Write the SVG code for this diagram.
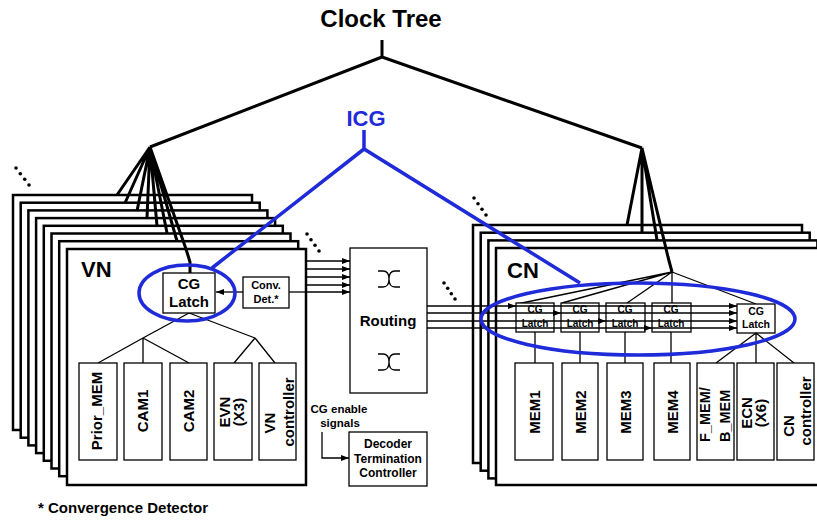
<svg xmlns="http://www.w3.org/2000/svg" width="817" height="520" viewBox="0 0 817 520">
<defs>
<style>
text{font-family:"Liberation Sans",Arial,Helvetica,sans-serif;font-weight:bold;fill:#000}
.box{fill:#fff;stroke:#000;stroke-width:2.5}
.sub{fill:#fff;stroke:#000;stroke-width:1.3}
.thick{fill:none;stroke:#000;stroke-width:3;stroke-linejoin:round}
.thin{fill:none;stroke:#000;stroke-width:1.3}
.bus{fill:none;stroke:#000;stroke-width:1.3;marker-end:url(#ah)}
.blue{fill:none;stroke:#1f2bd8;stroke-width:3.5}
.dot{fill:#000}
.c{text-anchor:middle}
.rv{text-anchor:middle;font-size:15px}
</style>
<marker id="ah" markerUnits="userSpaceOnUse" markerWidth="8" markerHeight="6" refX="8" refY="3" orient="auto">
<path d="M0,0 L8,3 L0,6 z" fill="#000"/>
</marker>
</defs>
<rect width="817" height="520" fill="#fff"/>

<text id="title" x="381" y="27" class="c" font-size="24">Clock Tree</text>

<!-- VN stack -->
<g id="vn-stack">
<rect class="box" x="13" y="195" width="239" height="235"/>
<rect class="box" x="20.7" y="202.7" width="239" height="235"/>
<rect class="box" x="28.4" y="210.4" width="239" height="235"/>
<rect class="box" x="36.1" y="218.1" width="239" height="235"/>
<rect class="box" x="43.8" y="225.8" width="239" height="235"/>
<rect class="box" x="51.5" y="233.5" width="239" height="235"/>
<rect class="box" x="59.2" y="241.2" width="239" height="235"/>
</g>
<g id="vn">
<rect class="box" x="67" y="249" width="239" height="236"/>
<text x="81" y="277" font-size="22">VN</text>
</g>

<!-- CN stack -->
<g id="cn-stack">
<rect class="box" x="473" y="225" width="329" height="238"/>
<rect class="box" x="480.7" y="232.7" width="329" height="238"/>
<rect class="box" x="488.4" y="240.4" width="329" height="238"/>
</g>
<g id="cn">
<rect class="box" x="496" y="248" width="329" height="237"/>
<text x="507" y="278" font-size="22">CN</text>
</g>

<!-- connectors -->
<g id="connectors">
<!-- clock tree -->
<path class="thick" d="M382,40 V57 M150,147 L382,57 L642,148"/>
<path class="thick" d="M150,147 L117,195 M150,147 L125,203 M150,147 L137,211 M150,147 L147,218 M150,147 L157,226 M150,147 L167,233 M150,147 L177,241 M150,147 L186,249 L190,262 L190,273"/>
<path class="thick" d="M642,148 L627,225 M642,148 L642,233 M642,148 L657,240 M642,148 L668,257 L672,272"/>
<!-- ICG -->
<path class="blue" d="M364,130 V149 M212,268 L364,149 L580,283"/>
<!-- VN internal -->
<path class="thin" d="M189,313 L143,338 M189,313 L255,338 M143,338 L98,363 M143,338 V363 M143,338 L189,363 M255,338 L234,363 M255,338 L275,363"/>
<path class="bus" d="M243,292 H216"/>
<path class="thin" d="M289,292 H306"/>
<!-- VN to routing -->
<path class="bus" d="M305,261 H350"/>
<path class="bus" d="M305,269 H350"/>
<path class="bus" d="M305,277 H350"/>
<path class="bus" d="M305,285 H350"/>
<path class="bus" d="M305,292 H350"/>
<!-- CG enable -->
<path class="bus" d="M322,432 V458 H349"/>
<!-- CN clock fan -->
<path class="thin" d="M672,272 L517,304 M672,272 L562,303 M672,272 L627,303 M672,272 V303 M672,272 L756,304"/>
</g>

<!-- VN internal nodes -->
<g id="vn-cglatch">
<rect class="sub" x="163" y="273" width="52" height="40"/>
<text x="189" y="289" class="c" font-size="15">CG</text>
<text x="189" y="307" class="c" font-size="15">Latch</text>
</g>
<g id="conv-det">
<rect class="sub" x="243" y="277" width="46" height="31"/>
<text x="266" y="289" class="c" font-size="11">Conv.</text>
<text x="266" y="303" class="c" font-size="11">Det.*</text>
</g>
<g id="prior-mem">
<rect class="sub" x="79" y="363" width="38" height="97"/>
<text class="rv" transform="translate(102,411) rotate(-90)">Prior_MEM</text>
</g>
<g id="cam1">
<rect class="sub" x="124" y="363" width="38" height="97"/>
<text class="rv" transform="translate(148,411) rotate(-90)">CAM1</text>
</g>
<g id="cam2">
<rect class="sub" x="170" y="363" width="37" height="97"/>
<text class="rv" transform="translate(194,411) rotate(-90)">CAM2</text>
</g>
<g id="evn">
<rect class="sub" x="214" y="363" width="38" height="97"/>
<text class="rv" transform="translate(230,412) rotate(-90)">EVN</text>
<text class="rv" transform="translate(244,412) rotate(-90)">(X3)</text>
</g>
<g id="vn-controller">
<rect class="sub" x="259" y="363" width="37" height="97"/>
<text class="rv" transform="translate(275,423) rotate(-90)">VN</text>
<text class="rv" transform="translate(294,412) rotate(-90)">controller</text>
</g>
<ellipse class="blue" cx="187" cy="293" rx="48" ry="28"/>

<!-- Routing -->
<g id="routing">
<rect class="sub" x="350" y="248" width="77" height="145"/>
<text x="388" y="326" class="c" font-size="15">Routing</text>
<path class="thin" d="M378,271 H383 Q389,271 389,279 Q389,287 383,287 H378 M400,271 H395 Q389,271 389,279 Q389,287 395,287 H400"/>
<path class="thin" d="M378,354 H383 Q389,354 389,362 Q389,370 383,370 H378 M400,354 H395 Q389,354 389,362 Q389,370 395,370 H400"/>
</g>

<g id="cg-enable-label">
<text x="339" y="413" class="c" font-size="11.5">CG enable</text>
<text x="340" y="427" class="c" font-size="11.5">signals</text>
</g>
<g id="decoder">
<rect class="sub" x="349" y="432" width="78" height="54"/>
<text x="388" y="448" class="c" font-size="12">Decoder</text>
<text x="388" y="463" class="c" font-size="12">Termination</text>
<text x="388" y="477" class="c" font-size="12">Controller</text>
</g>

<!-- CN latches -->
<g id="cn-latch1">
<rect class="sub" x="516" y="303" width="38" height="29"/>
<text x="535" y="313" class="c" font-size="10">CG</text>
<text x="535" y="327" class="c" font-size="10">Latch</text>
</g>
<g id="cn-latch2">
<rect class="sub" x="561" y="303" width="38" height="29"/>
<text x="580" y="313" class="c" font-size="10">CG</text>
<text x="580" y="327" class="c" font-size="10">Latch</text>
</g>
<g id="cn-latch3">
<rect class="sub" x="606" y="303" width="39" height="29"/>
<text x="625" y="313" class="c" font-size="10">CG</text>
<text x="625" y="327" class="c" font-size="10">Latch</text>
</g>
<g id="cn-latch4">
<rect class="sub" x="652" y="303" width="39" height="29"/>
<text x="671" y="313" class="c" font-size="10">CG</text>
<text x="671" y="327" class="c" font-size="10">Latch</text>
</g>
<g id="cn-latch5">
<rect class="sub" x="737" y="304" width="38" height="29"/>
<text x="756" y="315" class="c" font-size="10.5">CG</text>
<text x="756" y="328" class="c" font-size="10.5">Latch</text>
</g>

<!-- CN buses -->
<g id="cn-buses">
<path class="bus" d="M427,306 H516"/>
<path class="bus" d="M516,306 H737"/>
<path class="bus" d="M427,313 H561"/>
<path class="bus" d="M561,313 H737"/>
<path class="bus" d="M427,321 H606"/>
<path class="bus" d="M606,321 H737"/>
<path class="bus" d="M427,328 H652"/>
<path class="bus" d="M652,328 H737"/>
<path class="thin" d="M535,332 V363 M580,332 V363 M625,332 V363 M671,332 V363 M756,333 L716,363 M756,333 V363 M756,333 L794,363"/>
</g>

<g id="mem1"><rect class="sub" x="515" y="363" width="38" height="97"/><text class="rv" transform="translate(540,412) rotate(-90)">MEM1</text></g>
<g id="mem2"><rect class="sub" x="562" y="363" width="36" height="97"/><text class="rv" transform="translate(586,412) rotate(-90)">MEM2</text></g>
<g id="mem3"><rect class="sub" x="607" y="363" width="36" height="97"/><text class="rv" transform="translate(631,412) rotate(-90)">MEM3</text></g>
<g id="mem4"><rect class="sub" x="654" y="363" width="36" height="97"/><text class="rv" transform="translate(678,412) rotate(-90)">MEM4</text></g>
<g id="fb-mem">
<rect class="sub" x="697" y="363" width="37" height="97"/>
<text font-size="14.5" transform="translate(710,442) rotate(-90)">F_MEM/</text>
<text font-size="14.5" transform="translate(730,442) rotate(-90)">B_MEM</text>
</g>
<g id="ecn">
<rect class="sub" x="737" y="363" width="37" height="97"/>
<text class="rv" transform="translate(752,413) rotate(-90)">ECN</text>
<text class="rv" transform="translate(766,413) rotate(-90)">(X6)</text>
</g>
<g id="cn-controller">
<rect class="sub" x="777" y="363" width="37" height="97"/>
<text class="rv" transform="translate(794,426) rotate(-90)">CN</text>
<text class="rv" transform="translate(811,411) rotate(-90)">controller</text>
</g>

<ellipse class="blue" cx="638" cy="319" rx="157" ry="36"/>

<text id="icg" x="366" y="126" class="c" font-size="22" style="fill:#1f2bd8">ICG</text>

<g id="ellipsis-marks">
<circle class="dot" cx="16" cy="168" r="1.8"/><circle class="dot" cx="20.3" cy="173.7" r="1.8"/><circle class="dot" cx="24.7" cy="179.3" r="1.8"/><circle class="dot" cx="29" cy="185" r="1.8"/>
<circle class="dot" cx="307" cy="234" r="1.8"/><circle class="dot" cx="311" cy="239.7" r="1.8"/><circle class="dot" cx="315" cy="245.3" r="1.8"/><circle class="dot" cx="319" cy="251" r="1.8"/>
<circle class="dot" cx="444" cy="283" r="1.8"/><circle class="dot" cx="447.7" cy="288.3" r="1.8"/><circle class="dot" cx="451.3" cy="293.7" r="1.8"/><circle class="dot" cx="455" cy="299" r="1.8"/>
<circle class="dot" cx="474" cy="198" r="1.8"/><circle class="dot" cx="478" cy="203.7" r="1.8"/><circle class="dot" cx="482" cy="209.3" r="1.8"/><circle class="dot" cx="486" cy="215" r="1.8"/>
</g>

<text id="footnote" x="38" y="513" font-size="15">* Convergence Detector</text>
</svg>
